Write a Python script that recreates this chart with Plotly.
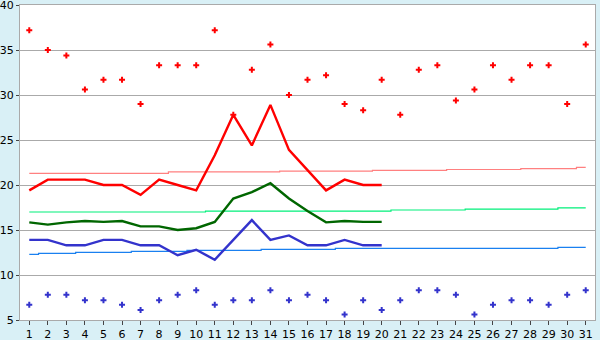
import plotly.graph_objects as go

days = list(range(1, 32))
line_days = list(range(1, 21))

record_max = [37.2, 35.0, 34.4, 30.6, 31.7, 31.7, 29.0, 33.3, 33.3, 33.3,
              37.2, 27.8, 32.8, 35.6, 30.0, 31.7, 32.2, 29.0, 28.3, 31.7,
              27.8, 32.8, 33.3, 29.4, 30.6, 33.3, 31.7, 33.3, 33.3, 29.0, 35.6]
record_min = [6.7, 7.8, 7.8, 7.2, 7.2, 6.7, 6.1, 7.2, 7.8, 8.3,
              6.7, 7.2, 7.2, 8.3, 7.2, 7.8, 7.2, 5.6, 7.2, 6.1,
              7.2, 8.3, 8.3, 7.8, 5.6, 6.7, 7.2, 7.2, 6.7, 7.8, 8.3]
t_max = [19.4, 20.6, 20.6, 20.6, 20.0, 20.0, 18.9, 20.6, 20.0, 19.4,
         23.3, 27.8, 24.4, 28.9, 23.9, 21.7, 19.4, 20.6, 20.0, 20.0]
t_mean = [15.85, 15.6, 15.85, 16.0, 15.9, 16.0, 15.4, 15.4, 15.0, 15.2,
          15.9, 18.5, 19.2, 20.2, 18.5, 17.1, 15.85, 16.0, 15.9, 15.9]
t_min = [13.9, 13.9, 13.3, 13.3, 13.9, 13.9, 13.3, 13.3, 12.2, 12.8,
         11.7, 13.9, 16.1, 13.9, 14.4, 13.3, 13.3, 13.9, 13.3, 13.3]
norm_max = [21.3] * 8 + [21.45] * 6 + [21.55] * 5 + [21.62] * 4 + [21.72] * 4 + [21.82] * 3 + [21.95]
norm_mean = [17.0] * 10 + [17.1] * 10 + [17.22] * 4 + [17.33] * 5 + [17.45] * 2
norm_min = [12.3] + [12.4] * 2 + [12.52] * 3 + [12.63] * 3 + [12.74] * 4 + [12.85] * 4 + [12.96] * 12 + [13.07] * 2

fig = go.Figure()
for vals, col in [(norm_max, "#ff8080"), (norm_mean, "#00f07a"), (norm_min, "#1a80f0")]:
    fig.add_trace(go.Scatter(x=days, y=vals, mode="lines", line=dict(color=col, width=1.2, shape="hvh")))
for vals, col in [(t_max, "#ff0000"), (t_mean, "#006600"), (t_min, "#3333cc")]:
    fig.add_trace(go.Scatter(x=line_days, y=vals, mode="lines", line=dict(color=col, width=2.4)))
fig.add_trace(go.Scatter(x=days, y=record_max, mode="markers",
                         marker=dict(symbol="cross", size=5, color="#ff0000", line=dict(width=0))))
fig.add_trace(go.Scatter(x=days, y=record_min, mode="markers",
                         marker=dict(symbol="cross", size=5, color="#3333cc", line=dict(width=0))))

fig.update_layout(
    width=600, height=340,
    margin=dict(l=20, r=5, t=5, b=20),
    paper_bgcolor="#d9f0f6", plot_bgcolor="#ffffff",
    showlegend=False, hovermode=False,
    font=dict(family="DejaVu Sans", size=11, color="#000000"),
)
fig.update_xaxes(range=[0.5, 31.5], tickvals=days, ticktext=[str(d) for d in days],
                 ticks="outside", ticklen=4, tickcolor="#444444", showgrid=False,
                 showline=True, linecolor="#aaaaaa", linewidth=1, mirror=True, zeroline=False,
                 tickfont=dict(size=11), automargin=False, ticklabeloverflow="allow",
                 ticklabelstandoff=0)
fig.update_yaxes(range=[5, 40], dtick=5, ticks="outside", ticklen=3, tickcolor="#444444",
                 showgrid=True, gridcolor="#aaaaaa", gridwidth=1,
                 showline=True, linecolor="#aaaaaa", linewidth=1, mirror=True, zeroline=False,
                 tickfont=dict(size=11), automargin=False, ticklabeloverflow="allow",
                 ticklabelstandoff=0)

fig.write_html("out.html")
